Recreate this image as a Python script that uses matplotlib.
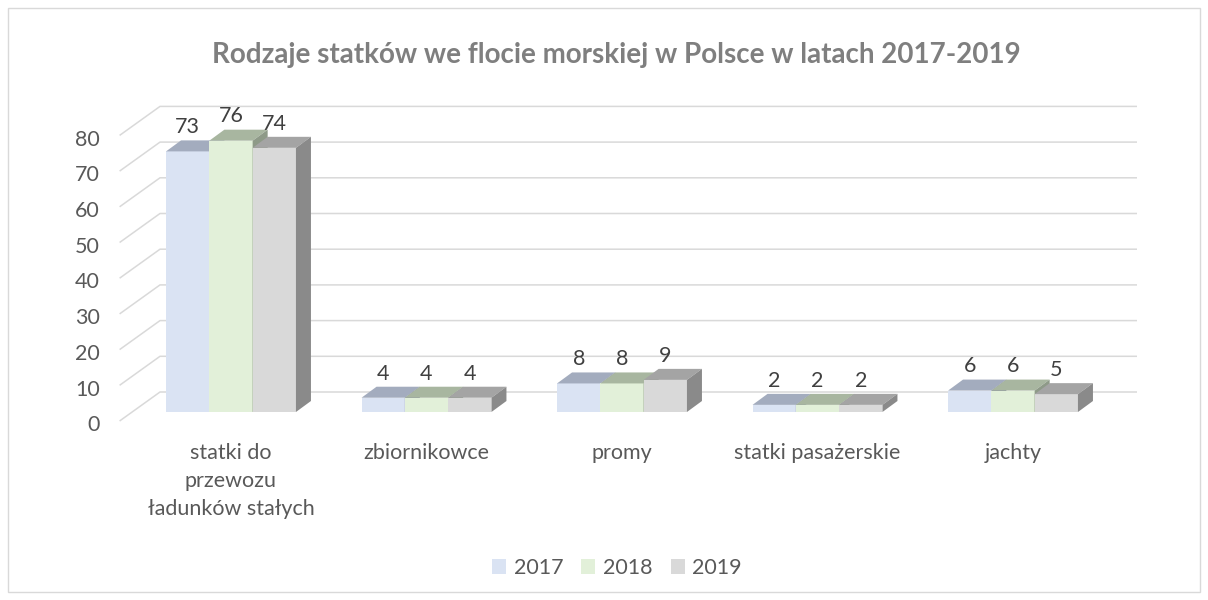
import matplotlib.pyplot as plt
from matplotlib.patches import Polygon, Patch, Rectangle

# data
categories = ["statki do\nprzewozu\nładunków stałych", "zbiornikowce", "promy",
              "statki pasażerskie", "jachty"]
years = ["2017", "2018", "2019"]
v2017 = [73, 4, 8, 2, 6]
v2018 = [76, 4, 8, 2, 6]
v2019 = [74, 4, 9, 2, 5]
series = [v2017, v2018, v2019]
yticks = [0, 10, 20, 30, 40, 50, 60, 70, 80]

front_colors = ["#DAE3F3", "#E2F0D9", "#D9D9D9"]
top_colors = ["#A3ACBE", "#A8B6A0", "#A4A4A4"]
side_colors = ["#8A92A3", "#8E9A88", "#8A8A8A"]

plt.rcParams["font.family"] = ["Lato", "DejaVu Sans"]

# pseudo-3D geometry (category units / value units)
PX_CAT = 195.5   # pixels per category
PX_VAL = 3.57    # pixels per value unit
bar_w = 43.3 / PX_CAT
bar_dx, bar_dy = 15 / PX_CAT, 11 / PX_VAL          # bar depth
front_dx, front_dy = -12.5 / PX_CAT, -9 / PX_VAL   # floor front edge
back_dx, back_dy = 27.9 / PX_CAT, 20 / PX_VAL      # back wall
wall_left = -71 / PX_CAT
wall_right = 906 / PX_CAT

fig = plt.figure(figsize=(12.08, 6.0), dpi=100)
ax = fig.add_axes([0, 0, 1, 1])
ax.set_xlim(-231 / PX_CAT, (1208 - 231) / PX_CAT)
ax.set_ylim((412 - 600) / PX_VAL, 412 / PX_VAL)
ax.axis("off")

fs = 15.5
grid_c = "#D9D9D9"
left_front_x = wall_left - (back_dx - front_dx)
for v in yticks:
    ax.plot([left_front_x, wall_left, wall_right],
            [v + front_dy, v + back_dy, v + back_dy],
            color=grid_c, lw=1.1, zorder=1, solid_capstyle="butt")
    ax.text(left_front_x - 0.1, v + front_dy - 1.2, str(v), ha="right", va="center",
            fontsize=fs, color="#595959")

n = len(series)
for i in range(len(categories)):
    for j in range(n):
        v = series[j][i]
        x0 = i - n * bar_w / 2 + j * bar_w
        x1 = x0 + bar_w
        z = 2 + i * n + j
        ax.add_patch(Polygon([(x0, 0), (x1, 0), (x1, v), (x0, v)],
                             closed=True, fc=front_colors[j], ec="none", zorder=z))
        ax.add_patch(Polygon([(x0, v), (x1, v), (x1 + bar_dx, v + bar_dy), (x0 + bar_dx, v + bar_dy)],
                             closed=True, fc=top_colors[j], ec="none", zorder=z))
        ax.add_patch(Polygon([(x1, 0), (x1 + bar_dx, bar_dy), (x1 + bar_dx, v + bar_dy), (x1, v)],
                             closed=True, fc=side_colors[j], ec="none", zorder=z))
        ax.text((x0 + x1) / 2, v + bar_dy + 0.9, str(v), ha="center", va="bottom",
                fontsize=fs, color="#404040", zorder=50)
    ax.text(i, -8.6, categories[i], ha="center", va="top", fontsize=fs,
            color="#595959", linespacing=1.5)

fig.text(0.51, 1 - 55 / 600, "Rodzaje statków we flocie morskiej w Polsce w latach 2017-2019",
         ha="center", va="center", fontsize=20, fontweight="bold", color="#7F7F7F")

handles = [Patch(fc=c, ec="none") for c in front_colors]
fig.legend(handles, years, loc="center", bbox_to_anchor=(617 / 1208, 1 - 568 / 600),
           ncol=3, frameon=False, fontsize=fs, handlelength=0.65, handleheight=0.65,
           handletextpad=0.35, columnspacing=0.85, labelcolor="#595959")

fig.add_artist(Rectangle((8 / 1208, 8 / 600), 1 - 16 / 1208, 1 - 16 / 600,
                         transform=fig.transFigure, fill=False, ec="#D9D9D9", lw=1.0))

fig.savefig("out.png", dpi=100)
